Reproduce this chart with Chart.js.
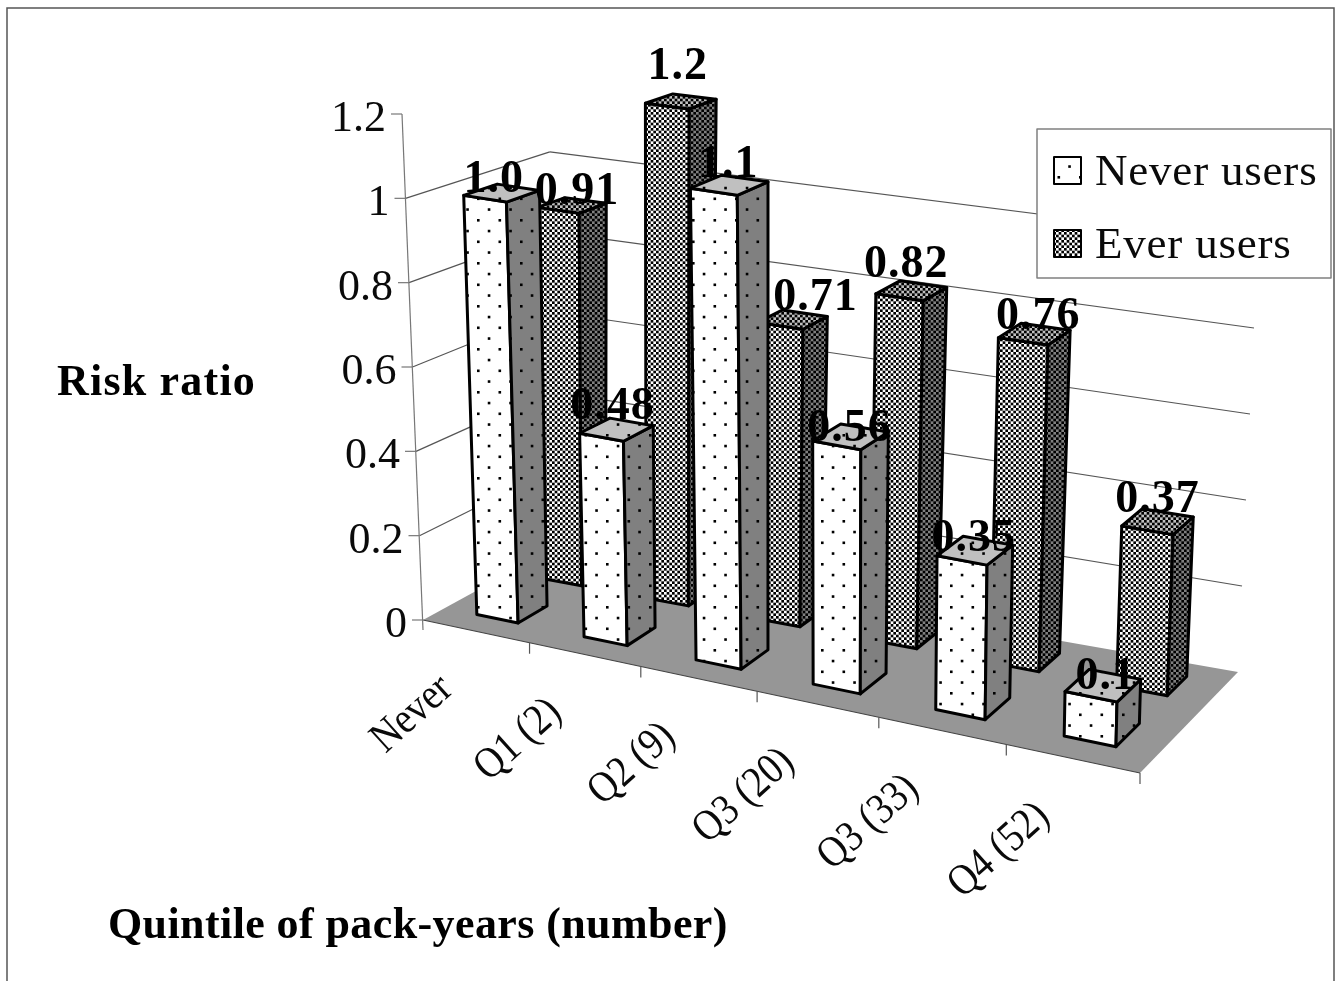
<!DOCTYPE html>
<html>
<head>
<meta charset="utf-8">
<title>Risk ratio by quintile of pack-years</title>
<script src="https://cdn.jsdelivr.net/npm/chart.js@4"></script>
<style>
  html, body { margin: 0; padding: 0; background: #fff; }
  canvas { display: block; }
</style>
</head>
<body>
<canvas id="riskChart" width="1342" height="981"></canvas>
<script>
// Datos
const categories = ['Never', 'Q1 (2)', 'Q2 (9)', 'Q3 (20)', 'Q3 (33)', 'Q4 (52)'];
const neverUsers = [1.0, 0.48, 1.1, 0.56, 0.35, 0.1];
const everUsers = [0.91, 1.2, 0.71, 0.82, 0.76, 0.37];
const neverLabels = ['1.0', '0.48', '1.1', '0.56', '0.35', '0.1'];
const everLabels = ['0.91', '1.2', '0.71', '0.82', '0.76', '0.37'];
const yTicks = [0, 0.2, 0.4, 0.6, 0.8, 1, 1.2];
const yTickLabels = ['0', '0.2', '0.4', '0.6', '0.8', '1', '1.2'];
const seriesNames = ['Never users', 'Ever users'];

const SERIF = '"Liberation Serif", serif';
const INK = '#0a0a0a';

// Caja 3D en pantalla: frente/fondo, izquierda/derecha, piso/techo (nivel 1.2)
const box = {
  flb: [423, 620], flt: [402, 114],
  blb: [549, 551], blt: [550, 72],
  frb: [1140, 773], frt: [1152, 229],
  brb: [1238, 672], brt: [1262, 156]
};
const perspective = 1.146;   // las categorias crecen hacia la derecha
const neverDepth = [0.175, 0.41];
const everDepth = [0.69, 0.885];

// Ajuste fino de las etiquetas de valor respecto al centro del techo de cada barra
const neverLabelShift = [[-8, 4], [-4, -6], [-1, -3], [-1, 9], [-1, 5], [3, 8]];
const everLabelShift = [[5, 7], [-3, -14], [23, -1], [-5, -6], [4, 3], [0, -2]];

function mix(a, b, k) {
  return [a[0] + (b[0] - a[0]) * k, a[1] + (b[1] - a[1]) * k];
}

// u: fraccion a lo largo de x, d: profundidad, w: fraccion de altura
function project(u, d, w) {
  const t = u / (u + perspective * (1 - u));
  const bottom = mix(mix(box.flb, box.frb, t), mix(box.blb, box.brb, t), d);
  const top = mix(mix(box.flt, box.frt, t), mix(box.blt, box.brt, t), d);
  return mix(bottom, top, w);
}

function tile(size, paint) {
  const c = document.createElement('canvas');
  c.width = size;
  c.height = size;
  paint(c.getContext('2d'));
  return c;
}

function dotPattern(ctx, base) {
  return ctx.createPattern(tile(43, g => {
    g.fillStyle = base;
    g.fillRect(0, 0, 43, 43);
    g.fillStyle = '#000';
    for (let r = 0; r < 4; r++) {
      for (let c = 0; c < 2; c++) {
        g.fillRect(4 + c * 21.5 + (r % 2) * 10.75, 4 + r * 10.75, 2.6, 2.6);
      }
    }
  }), 'repeat');
}

function checkPattern(ctx, base) {
  return ctx.createPattern(tile(16, g => {
    g.fillStyle = base;
    g.fillRect(0, 0, 16, 16);
    g.fillStyle = '#000';
    const s = 16 / 6;
    for (let r = 0; r < 6; r++) {
      for (let c = 0; c < 6; c++) {
        if ((r + c) % 2 === 0) g.fillRect(c * s, r * s, s, s);
      }
    }
  }), 'repeat');
}

function face(ctx, pts, fill) {
  ctx.beginPath();
  pts.forEach((p, i) => (i ? ctx.lineTo(p[0], p[1]) : ctx.moveTo(p[0], p[1])));
  ctx.closePath();
  ctx.fillStyle = fill;
  ctx.fill();
  ctx.lineWidth = 3;
  ctx.lineJoin = 'round';
  ctx.strokeStyle = '#000';
  ctx.stroke();
}

function line(ctx, a, b, color, width) {
  ctx.beginPath();
  ctx.moveTo(a[0], a[1]);
  ctx.lineTo(b[0], b[1]);
  ctx.strokeStyle = color;
  ctx.lineWidth = width;
  ctx.stroke();
}

const scene3d = {
  id: 'scene3d',
  afterDatasetsDraw(chart) {
    const ctx = chart.ctx;
    const xs = chart.scales.x;
    const ys = chart.scales.y;
    const toU = px => (px - xs.left) / (xs.right - xs.left);
    const toW = py => (ys.bottom - py) / (ys.bottom - ys.top);
    ctx.save();

    // marco de la figura
    ctx.strokeStyle = '#555';
    ctx.lineWidth = 1.5;
    ctx.beginPath();
    ctx.moveTo(7, 981);
    ctx.lineTo(7, 8);
    ctx.lineTo(1334, 8);
    ctx.lineTo(1334, 981);
    ctx.stroke();

    // piso
    ctx.beginPath();
    [[0, 0], [1, 0], [1, 1], [0, 1]].forEach(([u, d], i) => {
      const p = project(u, d, 0);
      if (i) ctx.lineTo(p[0], p[1]); else ctx.moveTo(p[0], p[1]);
    });
    ctx.closePath();
    ctx.fillStyle = '#969696';
    ctx.fill();
    line(ctx, project(0, 0, 0), project(1, 0, 0), '#444', 1.2);

    // lineas de la cuadricula (el nivel 1.2 no lleva)
    yTicks.forEach(v => {
      const w = toW(ys.getPixelForValue(v));
      if (v > 0 && v < 1.1) {
        line(ctx, project(0, 0, w), project(0, 1, w), '#555', 1.2);
        line(ctx, project(0, 1, w), project(1, 1, w), '#555', 1.2);
      }
    });

    // eje y inclinado
    line(ctx, project(0, 0, 1), [box.flb[0], box.flb[1] + 10], '#777', 1.2);
    ctx.fillStyle = INK;
    ctx.font = '44px ' + SERIF;
    ctx.textAlign = 'right';
    ctx.textBaseline = 'alphabetic';
    yTicks.forEach((v, i) => {
      const p = project(0, 0, toW(ys.getPixelForValue(v)));
      line(ctx, [p[0] - 11, p[1]], p, '#777', 1.2);
      ctx.fillText(yTickLabels[i], p[0] - 16, p[1] + 17);
    });

    // marcas del eje x
    for (let i = 1; i <= categories.length; i++) {
      const p = project(i / categories.length, 0, 0);
      line(ctx, p, [p[0], p[1] + 11], '#555', 1.2);
    }

    const dots = { front: dotPattern(ctx, '#fff'), side: dotPattern(ctx, '#808080'), top: dotPattern(ctx, '#c0c0c0') };
    const checks = { front: checkPattern(ctx, '#fff'), side: checkPattern(ctx, '#808080'), top: checkPattern(ctx, '#c0c0c0') };

    const drawBars = (index, depth, fills) => {
      const tops = [];
      chart.getDatasetMeta(index).data.forEach(bar => {
        const u0 = toU(bar.x - bar.width / 2);
        const u1 = toU(bar.x + bar.width / 2);
        const w = toW(bar.y);
        const [d0, d1] = depth;
        face(ctx, [project(u0, d0, 0), project(u1, d0, 0), project(u1, d0, w), project(u0, d0, w)], fills.front);
        face(ctx, [project(u1, d0, 0), project(u1, d1, 0), project(u1, d1, w), project(u1, d0, w)], fills.side);
        face(ctx, [project(u0, d0, w), project(u1, d0, w), project(u1, d1, w), project(u0, d1, w)], fills.top);
        tops.push(project((u0 + u1) / 2, (d0 + d1) / 2, w));
      });
      return tops;
    };

    const everTops = drawBars(1, everDepth, checks);
    const neverTops = drawBars(0, neverDepth, dots);

    // etiquetas de valor
    ctx.fillStyle = '#000';
    ctx.font = 'bold 46px ' + SERIF;
    ctx.letterSpacing = '1px';
    ctx.textAlign = 'center';
    everTops.forEach((p, i) => ctx.fillText(everLabels[i], p[0] + everLabelShift[i][0], p[1] - 8 + everLabelShift[i][1]));
    neverTops.forEach((p, i) => ctx.fillText(neverLabels[i], p[0] + neverLabelShift[i][0], p[1] - 5 + neverLabelShift[i][1]));
    ctx.letterSpacing = '0px';

    // categorias giradas
    ctx.fillStyle = INK;
    ctx.font = '38px ' + SERIF;
    ctx.textAlign = 'right';
    ctx.textBaseline = 'middle';
    categories.forEach((name, i) => {
      const p = project(toU(xs.getPixelForValue(i)), 0, 0);
      ctx.save();
      ctx.translate(p[0] - 29, p[1] + 52);
      ctx.rotate(-42 * Math.PI / 180);
      ctx.scale(1, 1.15);
      ctx.fillText(name, 0, 0);
      ctx.restore();
    });

    // titulos de los ejes
    ctx.fillStyle = '#000';
    ctx.textAlign = 'left';
    ctx.textBaseline = 'alphabetic';
    ctx.font = 'bold 44px ' + SERIF;
    ctx.letterSpacing = '1.2px';
    ctx.fillText('Risk ratio', 57, 395);
    ctx.letterSpacing = '0.4px';
    ctx.fillText('Quintile of pack-years (number)', 108, 938);

    // leyenda
    ctx.letterSpacing = '0px';
    ctx.fillStyle = '#fff';
    ctx.fillRect(1037, 129, 294, 149);
    ctx.strokeStyle = '#808080';
    ctx.lineWidth = 1.5;
    ctx.strokeRect(1037, 129, 294, 149);
    [dots.front, checks.front].forEach((fill, i) => {
      const y = 157 + i * 73;
      ctx.fillStyle = fill;
      ctx.fillRect(1054, y, 27, 27);
      ctx.strokeStyle = '#000';
      ctx.lineWidth = 2;
      ctx.strokeRect(1054, y, 27, 27);
      ctx.fillStyle = INK;
      ctx.font = '45px ' + SERIF;
      ctx.letterSpacing = '0.8px';
      ctx.fillText(seriesNames[i], 1095, y + 28);
      ctx.letterSpacing = '0px';
    });

    ctx.restore();
  }
};

new Chart(document.getElementById('riskChart'), {
  type: 'bar',
  data: {
    labels: categories,
    datasets: [
      { label: seriesNames[0], data: neverUsers, backgroundColor: 'transparent', grouped: false },
      { label: seriesNames[1], data: everUsers, backgroundColor: 'transparent', grouped: false }
    ]
  },
  options: {
    responsive: false,
    animation: false,
    barPercentage: 0.39,
    categoryPercentage: 1,
    layout: { padding: { left: 423, right: 202, top: 114, bottom: 361 } },
    plugins: { legend: { display: false }, tooltip: { enabled: false } },
    scales: {
      x: { display: false },
      y: { display: false, min: 0, max: 1.2 }
    }
  },
  plugins: [scene3d]
});
</script>
</body>
</html>
